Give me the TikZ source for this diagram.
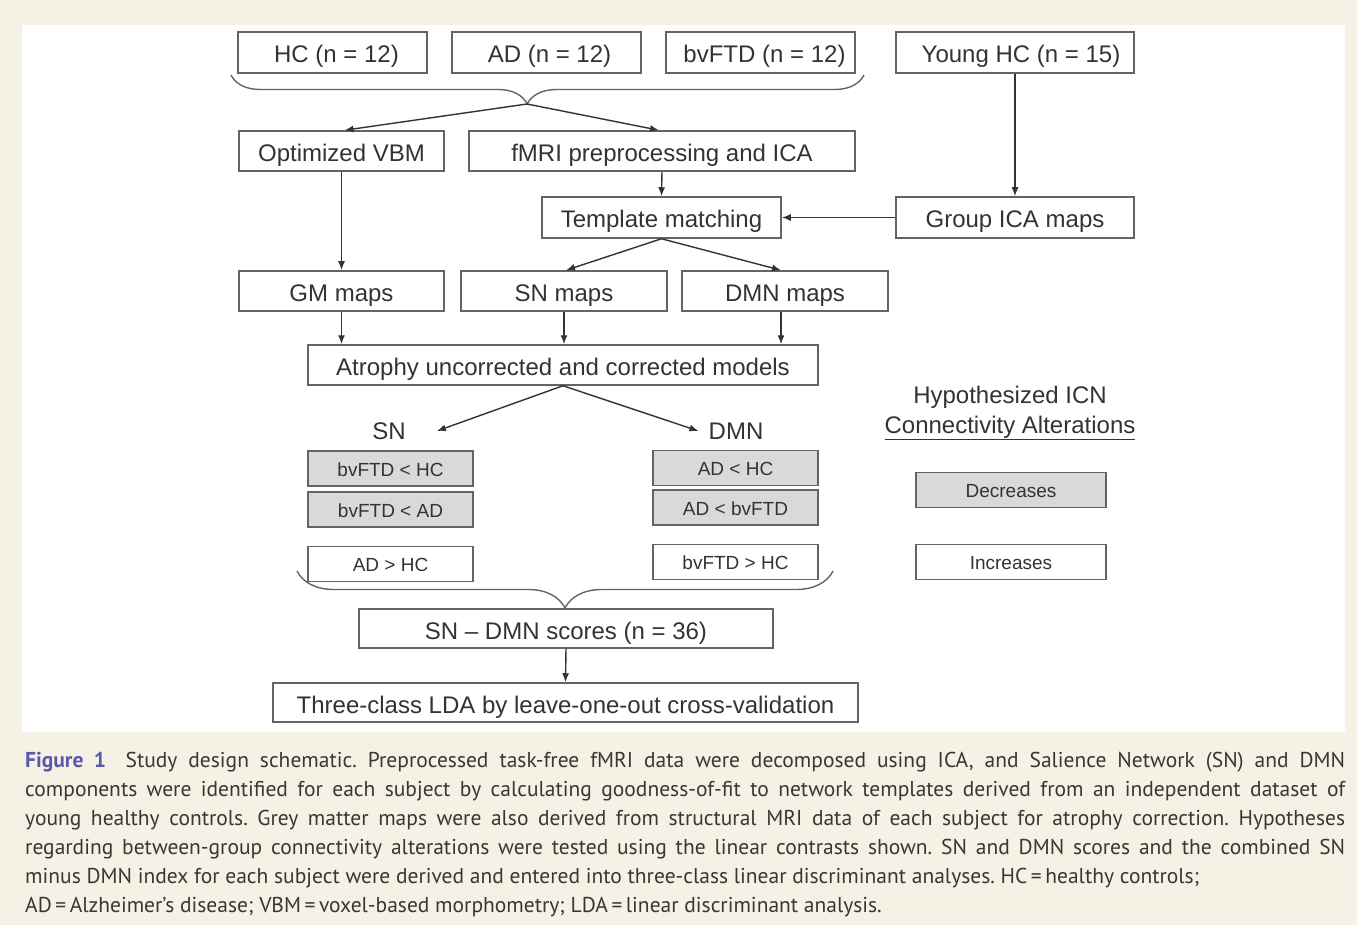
\documentclass[tikz,border=0pt]{standalone}
\usepackage{fontspec}
\setmainfont{Liberation Sans}
\newfontfamily\capfont{PT Sans}
\usetikzlibrary{decorations.pathreplacing, arrows.meta}

\definecolor{paper}{RGB}{245,241,228}
\definecolor{ink}{RGB}{51,51,51}
\definecolor{frame}{RGB}{100,100,100}
\definecolor{shade}{RGB}{217,217,217}
\definecolor{figblue}{RGB}{88,90,168}
\definecolor{captext}{RGB}{55,55,55}

\tikzset{
	box/.style = {draw = frame, line width = 1.5pt, fill = white, text = ink, inner sep = 0pt,
		minimum height = 40pt, text height = 21pt, text depth = 0pt, font = \fontsize{24}{28}\selectfont},
	small/.style = {box, minimum width = 165pt, minimum height = 35pt, text height = 15pt,
		font = \fontsize{19}{23}\selectfont},
	dark/.style = {fill = shade},
	tag/.style = {text = ink, inner sep = 0pt, font = \fontsize{24}{30}\selectfont},
	flow/.style = {->, draw = ink, line width = 1.4pt},
	curly/.style = {draw = frame, line width = 1.4pt, decorate,
		decoration = {brace, mirror, amplitude = #1}}
}

\begin{document}
\begin{tikzpicture}[> = {Latex[length = 9pt, width = 7pt]}, x = 1pt, y = -1pt]

	% Paper and white panel

	\useasboundingbox (0, 0) rectangle (1357, 925);
	\fill [paper] (0, 0) rectangle (1357, 925);
	\fill [white] (22, 25) rectangle (1345, 732);

	% Subject groups

	\node [box, minimum width = 189pt, minimum height = 41pt] (hc) at (332.5, 52.5) {\hspace{8pt}HC (n = 12)};
	\node [box, minimum width = 189pt, minimum height = 41pt] (ad) at (546.5, 52.5) {\hspace{6pt}AD (n = 12)};
	\node [box, minimum width = 189pt, minimum height = 41pt] (ftd) at (760.5, 52.5) {\hspace{8pt}bvFTD (n = 12)};
	\node [box, minimum width = 238pt, minimum height = 41pt] (young) at (1015, 52.5) {\hspace{12pt}Young HC (n = 15)};

	% Processing steps

	\node [box, minimum width = 205pt] (vbm) at (341.5, 151) {Optimized VBM};
	\node [box, minimum width = 386pt] (fmri) at (662, 151) {fMRI preprocessing and ICA};
	\node [box, minimum width = 239pt, minimum height = 41pt] (templ) at (661.5, 217.5) {Template matching};
	\node [box, minimum width = 238pt, minimum height = 41pt] (group) at (1015, 217.5) {Group ICA maps};

	% Maps

	\node [box, minimum width = 205pt] (gm) at (341.5, 291) {GM maps};
	\node [box, minimum width = 206pt] (snmap) at (564, 291) {SN maps};
	\node [box, minimum width = 206pt] (dmnmap) at (785, 291) {DMN maps};

	\node [box, minimum width = 510pt] (atro) at (563, 365) {Atrophy uncorrected and corrected models};

	% Network contrasts

	\node [tag] (snlab) at (389, 431) {SN};
	\node [tag] (dmnlab) at (736, 431) {DMN};

	\node [small, dark] (sn1) at (390.5, 468.5) {bvFTD < HC};
	\node [small, dark] (sn2) at (390.5, 509.5) {bvFTD < AD};
	\node [small] (sn3) at (390.5, 564) {AD > HC};

	\node [small, dark] (dm1) at (735.5, 468) {AD < HC};
	\node [small, dark] (dm2) at (735.5, 507.5) {AD < bvFTD};
	\node [small] (dm3) at (735.5, 562) {bvFTD > HC};

	% Legend

	\node [tag, align = center] (hyp) at (1010, 413) {Hypothesized ICN\\\underline{Connectivity Alterations}};
	\node [small, dark, minimum width = 190pt] (dec) at (1011, 490) {Decreases};
	\node [small, minimum width = 190pt] (inc) at (1011, 562) {Increases};

	% Scores and classification

	\node [box, minimum width = 414pt, minimum height = 39pt] (score) at (566, 628.5) {SN -- DMN scores (n = 36)};
	\node [box, minimum width = 585pt, minimum height = 39pt] (lda) at (565.5, 702.5) {Three-class LDA by leave-one-out cross-validation};

	% Braces

	\draw [curly = 29pt, decoration = {aspect = 0.468}] (231, 75) -- (864, 75);
	\coordinate (tipA) at (527, 104);
	\draw [curly = 37pt] (297, 571) -- (833, 571);

	% Arrows

	\draw [flow] (tipA) -- ([xshift = 3pt] vbm.north);
	\draw [flow] (tipA) -- ([xshift = -3pt] fmri.north);
	\draw [flow] (fmri.south) -- (templ.north);
	\draw [flow] (young.south) -- (group.north);
	\draw [flow] (group.west) -- (templ.east);
	\draw [flow] (vbm.south) -- (gm.north);
	\draw [flow] (templ.south) -- ([xshift = 2pt] snmap.north);
	\draw [flow] (templ.south) -- ([xshift = -4pt] dmnmap.north);
	\draw [flow] (gm.south) -- (gm.south |- atro.north);
	\draw [flow] (snmap.south) -- (snmap.south |- atro.north);
	\draw [flow] ([xshift = -4pt] dmnmap.south) -- ([xshift = -4pt] dmnmap.south |- atro.north);
	\draw [flow] (atro.south) -- ([xshift = 31pt] snlab.east);
	\draw [flow] (atro.south) -- ([xshift = -10pt] dmnlab.west);
	\draw [flow] (score.south) -- (lda.north);

	% Caption

	\node [anchor = north west, inner sep = 0pt, text width = 1320pt, align = justify, text = captext,
		font = \capfont\fontsize{21.5}{29}\selectfont\frenchspacing] (caption) at (25, 752)
		{{\color{figblue}\bfseries Figure 1}\hspace{0.4em} Study design schematic. Preprocessed task-free fMRI data were decomposed using ICA, and Salience Network (SN) and DMN\linebreak
		components were identified for each subject by calculating goodness-of-fit to network templates derived from an independent dataset of\linebreak
		young healthy controls. Grey matter maps were also derived from structural MRI data of each subject for atrophy correction. Hypotheses\linebreak
		regarding between-group connectivity alterations were tested using the linear contrasts shown. SN and DMN scores and the combined SN\linebreak
		minus DMN index for each subject were derived and entered into three-class linear discriminant analyses. HC\,=\,healthy controls;\newline
		AD\,=\,Alzheimer’s disease; VBM\,=\,voxel-based morphometry; LDA\,=\,linear discriminant analysis.};

\end{tikzpicture}
\end{document}
